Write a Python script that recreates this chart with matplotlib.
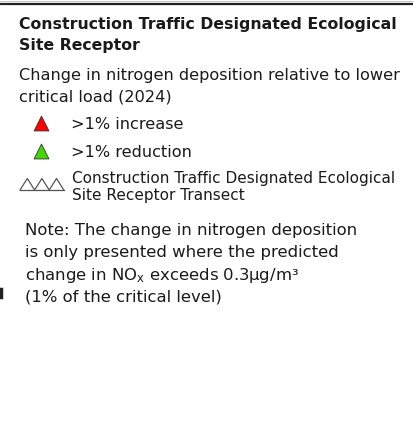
import matplotlib
matplotlib.use("Agg")
import matplotlib.pyplot as plt

# legend text
TITLE = ["Construction Traffic Designated Ecological", "Site Receptor"]
SUBTITLE = ["Change in nitrogen deposition relative to lower", "critical load (2024)"]
CLASS_LABELS = [">1% increase", ">1% reduction"]
CLASS_COLOURS = ["#ff0000", "#44d600"]
TRANSECT_LABEL = ["Construction Traffic Designated Ecological", "Site Receptor Transect"]
NOTE = [
    "Note: The change in nitrogen deposition",
    "is only presented where the predicted",
    "change in NO$_\\mathrm{x}$ exceeds 0.3µg/m³",
    "(1% of the critical level)",
]

W, H = 414, 424
fig = plt.figure(figsize=(W / 100, H / 100), dpi=100)
ax = fig.add_axes([0, 0, 1, 1])
ax.set_xlim(0, W)
ax.set_ylim(H, 0)
ax.axis("off")

txt = dict(va="baseline", ha="left", color="#1a1a1a", family="DejaVu Sans")

# map frame edge at the top and a scrap of it at the left
ax.plot([0, W], [3.5, 3.5], color="#222222", lw=1.6, solid_capstyle="butt")
ax.plot([0, W], [0.5, 0.5], color="#bbbbbb", lw=0.6)
ax.plot([1, 1], [289, 297], color="#222222", lw=2.5)

# heading
for i, line in enumerate(TITLE):
    ax.text(19, 29 + i * 21, line, fontweight="bold", fontsize=11.35, **txt)
for i, line in enumerate(SUBTITLE):
    ax.text(19, 80 + i * 21, line, fontsize=11.6, **txt)

# classes
for i, (lab, col) in enumerate(zip(CLASS_LABELS, CLASS_COLOURS)):
    y = 123 + i * 28
    ax.scatter([41], [y], marker="^", s=115, color=col, edgecolor="#333333", linewidths=0.6)
    ax.text(71, y + 6, lab, fontsize=11.6, **txt)

# transect symbol: three open triangles on a base line
tx = [20, 27.3, 34.6, 41.9, 49.2, 56.5, 63.8]
ty = [190, 178.5, 190, 178.5, 190, 178.5, 190]
ax.plot(tx, ty, color="#555555", lw=0.9)
ax.plot([tx[0], tx[-1]], [190, 190], color="#555555", lw=0.9)
ax.text(72, 183, TRANSECT_LABEL[0], fontsize=11.0, **txt)
ax.text(72, 200, TRANSECT_LABEL[1], fontsize=11.0, **txt)

# note
for i, line in enumerate(NOTE):
    ax.text(25, 235 + i * 22.3, line, fontsize=11.85, **txt)

fig.savefig("out.png", dpi=100, facecolor="white")
